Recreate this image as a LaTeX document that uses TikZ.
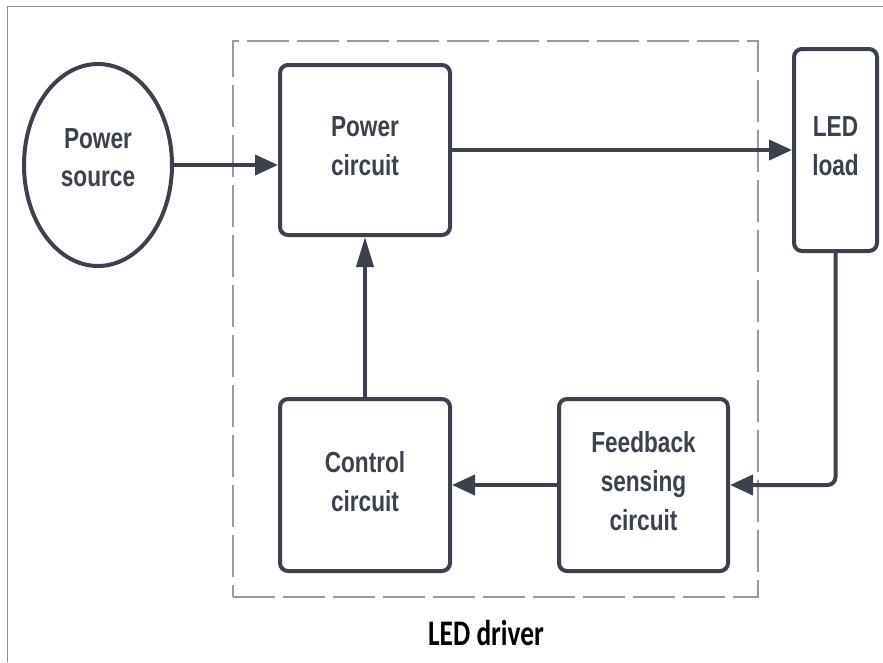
\documentclass[tikz,border=0pt]{standalone}
\usepackage{fontspec}
\usetikzlibrary{shapes.geometric,arrows.meta}
\newfontfamily\boxfont[FakeStretch=0.78]{Liberation Sans}
\newfontfamily\labfont[FakeStretch=0.76]{Carlito}
\definecolor{ink}{HTML}{3B424C}
\definecolor{frame}{HTML}{8E8E8E}
\definecolor{dash}{HTML}{9A9A9A}
\tikzset{
  blk/.style={draw=ink, line width=4pt, rounded corners=8pt, inner sep=0pt,
    align=center, text=ink, text depth=8pt, font=\boxfont\bfseries\fontsize{29}{39}\selectfont},
  conn/.style={draw=ink, line width=4pt},
  harrow/.style={-{Triangle[length=23pt,width=20pt]}},
  varrow/.style={-{Triangle[length=30pt,width=17pt]}}
}
\begin{document}
\begin{tikzpicture}[x=1pt,y=-1pt]
\useasboundingbox (0,0) rectangle (883,662);
\fill[white] (0,0) rectangle (883,662);
% outer frame (top and left visible)
\draw[frame, line width=1.5pt] (7.5,662) -- (7.5,6.5) -- (883,6.5);
% dashed LED driver region
\node[draw=dash, line width=1.3pt, dash pattern=on 42pt off 8pt, inner sep=0pt,
      minimum width=525pt, minimum height=556pt] (drv) at (495.5,319) {};
\node[font=\labfont\bfseries\fontsize{36}{40}\selectfont, text=black, anchor=base] (lab) at (486,645) {LED driver};
% blocks
\node[ellipse, draw=ink, line width=4pt, inner sep=0pt, minimum width=148pt, minimum height=202pt,
      align=center, text=ink, text depth=14pt, font=\boxfont\bfseries\fontsize{29}{38}\selectfont] (ps) at (98,165) {Power\\source};
\node[blk, minimum width=170pt, minimum height=170pt] (pc) at (365,150) {Power\\circuit};
\node[blk, minimum width=83pt, minimum height=202pt] (led) at (835.5,150) {LED\\load};
\node[blk, minimum width=170pt, minimum height=172pt] (cc) at (365,485) {Control\\circuit};
\node[blk, minimum width=169pt, minimum height=172pt] (fb) at (643.5,485) {Feedback\\sensing\\circuit};
% connectors
\draw[conn, harrow] (ps.east) -- (pc.west |- ps.east);
\draw[conn, harrow] (pc.east) -- (led.west |- pc.east);
\draw[conn, harrow, rounded corners=8pt] (led.south) -- (led.south |- fb.east) -- (fb.east);
\draw[conn, harrow] (fb.west) -- (cc.east);
\draw[conn, varrow] (cc.north) -- (pc.south);
\end{tikzpicture}
\end{document}
